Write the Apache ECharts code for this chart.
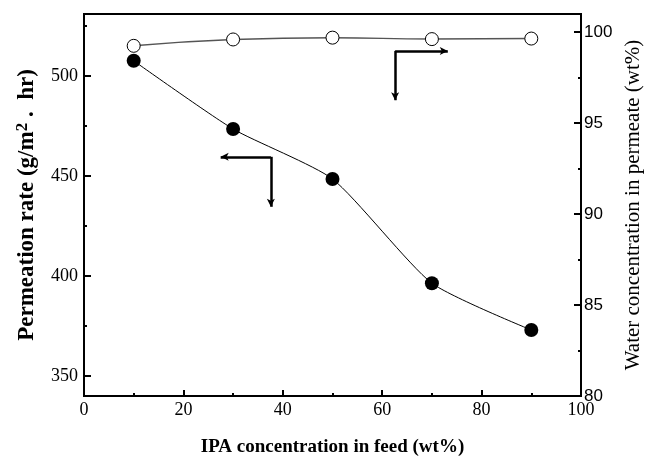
<!DOCTYPE html>
<html>
<head>
<meta charset="utf-8">
<script src="https://cdn.jsdelivr.net/npm/echarts@6/dist/echarts.min.js"></script>
<style>html,body{margin:0;padding:0;background:#fff}#c{width:650px;height:463px}</style>
</head>
<body>
<div id="c"></div>
<script>
// ---- data ----
const ipaFeed = [10, 30, 50, 70, 90];
const permeationRate = [507.6, 473.5, 448.5, 396.4, 373];
const waterInPermeate = [99.25, 99.6, 99.7, 99.62, 99.65];

const xTickValues = [0, 20, 40, 60, 80, 100];
const leftMajorTicks = [350, 400, 450, 500];
const leftMinorTicks = [375, 425, 475, 525];
const rightLabelValues = [80, 85, 90, 95, 100];
const rightMajorTicks = [85, 90, 95, 100];
const rightMinorTicks = [82.5, 87.5, 92.5, 97.5];

// annotation arrows (corner, end1, end2) in data coordinates
const leftArrowCorner = [37.6, 459.6], leftArrowH = [27.5, 459.6], leftArrowV = [37.6, 434.6];
const rightArrowCorner = [62.6, 98.97], rightArrowH = [73.2, 98.97], rightArrowV = [62.6, 96.26];

const serif = '"Liberation Serif","Times New Roman",serif';
const sans = '"Liberation Sans",Arial,sans-serif';

const arrowStyle = {
  silent: true,
  symbol: ['none', 'arrow'],
  symbolSize: [6, 8],
  label: { show: false },
  lineStyle: { color: '#000', width: 2.5, type: 'solid' },
  animation: false
};

const chart = echarts.init(document.getElementById('c'));
chart.setOption({
  animation: false,
  backgroundColor: '#fff',
  grid: { left: 84, right: 69, top: 14, bottom: 67, show: true, borderColor: '#000', borderWidth: 2,
          backgroundColor: 'transparent', containLabel: false, outerBoundsMode: 'none' },
  xAxis: {
    type: 'value', min: 0, max: 100, interval: 20,
    name: 'IPA concentration in feed (wt%)',
    nameLocation: 'middle', nameGap: 42,
    nameTextStyle: { fontFamily: serif, fontWeight: 'bold', fontSize: 19, color: '#000' },
    axisLine: { lineStyle: { color: '#000', width: 2 } },
    axisTick: { inside: true, length: 6, lineStyle: { color: '#000', width: 2 } },
    minorTick: { show: true, splitNumber: 2, length: 3, lineStyle: { color: '#000', width: 2 } },
    axisLabel: { fontFamily: serif, fontSize: 18, color: '#000', margin: 5 },
    splitLine: { show: false }
  },
  yAxis: [
    {
      type: 'value', min: 340, max: 531, position: 'left',
      name: '{a|Permeation rate (g/m}{s|2}{a| .  hr)}',
      nameLocation: 'middle', nameGap: 44,
      nameTextStyle: { rich: {
        a: { fontFamily: serif, fontWeight: 'bold', fontSize: 23, color: '#000' },
        s: { fontFamily: serif, fontWeight: 'bold', fontSize: 17, color: '#000', verticalAlign: 'top', padding: [0, 0, 9, 0] }
      } },
      axisLine: { show: true, lineStyle: { color: '#000', width: 2 } },
      axisTick: { show: true, inside: true, length: 7, customValues: leftMajorTicks, lineStyle: { color: '#000', width: 2 } },
      axisLabel: { customValues: leftMajorTicks, fontFamily: serif, fontSize: 18, color: '#000', margin: 6 },
      splitLine: { show: false }
    },
    {
      type: 'value', min: 340, max: 531, position: 'left',
      axisLine: { show: false },
      axisTick: { show: true, inside: true, length: 3, customValues: leftMinorTicks, lineStyle: { color: '#000', width: 2 } },
      axisLabel: { show: false },
      splitLine: { show: false }
    },
    {
      type: 'value', min: 80, max: 101, position: 'right',
      name: 'Water concentration in permeate (wt%)',
      nameLocation: 'middle', nameGap: 41, nameRotate: 90,
      nameTextStyle: { fontFamily: serif, fontSize: 21, color: '#000' },
      axisLine: { show: true, lineStyle: { color: '#000', width: 2 } },
      axisTick: { show: true, inside: true, length: 7, customValues: rightMajorTicks, lineStyle: { color: '#000', width: 2 } },
      axisLabel: { customValues: rightLabelValues, fontFamily: sans, fontSize: 17, color: '#000', margin: 3 },
      splitLine: { show: false }
    },
    {
      type: 'value', min: 80, max: 101, position: 'right',
      axisLine: { show: false },
      axisTick: { show: true, inside: true, length: 3, customValues: rightMinorTicks, lineStyle: { color: '#000', width: 2 } },
      axisLabel: { show: false },
      splitLine: { show: false }
    }
  ],
  series: [
    {
      type: 'line', yAxisIndex: 0,
      data: ipaFeed.map((x, i) => [x, permeationRate[i]]),
      smooth: 0.2,
      symbol: 'circle', symbolSize: 14,
      itemStyle: { color: '#000' },
      lineStyle: { color: '#000', width: 1 },
      z: 3,
      markLine: Object.assign({}, arrowStyle, { data: [
        [{ coord: leftArrowCorner }, { coord: leftArrowH }],
        [{ coord: leftArrowCorner }, { coord: leftArrowV }]
      ] })
    },
    {
      type: 'line', yAxisIndex: 2,
      data: ipaFeed.map((x, i) => [x, waterInPermeate[i]]),
      smooth: true,
      symbol: 'circle', symbolSize: 13,
      itemStyle: { color: '#fff', borderColor: '#000', borderWidth: 1 },
      lineStyle: { color: '#555', width: 1.5 },
      z: 3,
      markLine: Object.assign({}, arrowStyle, { data: [
        [{ coord: rightArrowCorner }, { coord: rightArrowH }],
        [{ coord: rightArrowCorner }, { coord: rightArrowV }]
      ] })
    }
  ]
});
</script>
</body>
</html>
